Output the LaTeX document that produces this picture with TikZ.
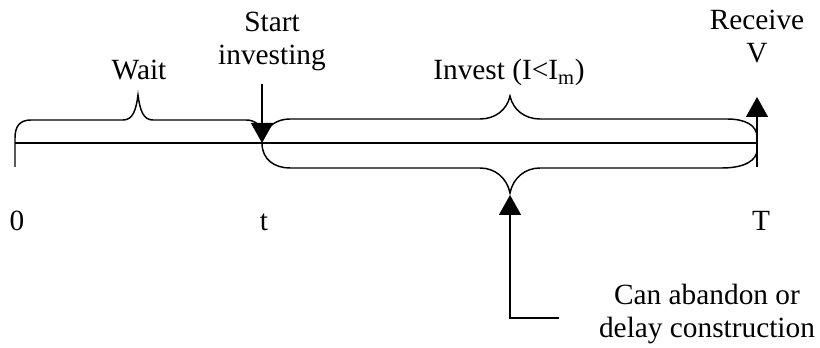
\documentclass[tikz,border=0pt]{standalone}
\usepackage{fontspec}
\setmainfont{Liberation Serif}
\usetikzlibrary{arrows.meta}
\begin{document}
\begin{tikzpicture}[x=0.75pt,y=-0.75pt,
  line/.style={line width=1.1pt},
  lbl/.style={font=\fontsize{22}{24.75}\selectfont, inner sep=0pt, anchor=base, align=center},
  head/.style={-{Triangle[length=15pt,width=16.5pt]}}]
\useasboundingbox (0,0) rectangle (820,348);
% timeline points
\coordinate (O) at (15,143);
\coordinate (tt) at (262,143);
\coordinate (TT) at (757,143);
\draw[line] (O) -- (TT);
% wait brace with tick at 0
\draw[line] (15,167) -- (15,138) .. controls (15,126) and (20,120) .. (31,120) -- (123,120)
  .. controls (133,120) and (136,110) .. (138,95) .. controls (140,110) and (143,120) .. (153,120)
  -- (246,120) .. controls (255,120) and (260,125) .. (262,132);
% invest brace (top)
\draw[line] (262,140) .. controls (266,126) and (277,119) .. (290,119) -- (480,119)
  .. controls (495,119) and (507,110) .. (510,96) .. controls (513,110) and (525,119) .. (540,119)
  -- (727,119) .. controls (745,119) and (757,125) .. (757,137);
% bottom brace
\draw[line] (262,143) .. controls (262,160) and (275,168) .. (290,168) -- (480,168)
  .. controls (495,168) and (507,178) .. (510,193) .. controls (513,178) and (525,168) .. (540,168)
  -- (722,168) .. controls (745,168) and (757,160) .. (757,150);
% labels
\node[lbl] (zero) at (17,231) {0};
\node[lbl] (tl) at (264,231) {t};
\node[lbl] (Tl) at (761,231) {T};
\node[lbl] (wait) at (139,80) {Wait};
\node[lbl] (start) at (272,65) {Start\\investing};
\node[lbl] (invest) at (509,80) {Invest (I<I\textsubscript{m})};
\node[lbl] (recv) at (757,63) {Receive\\V};
\node[lbl] (can) at (707,338) {Can abandon or\\delay construction};
% arrows
\coordinate (sa) at (262,84);
\draw[line,head] (sa) -- (tt);
\coordinate (rb) at (757,167);
\coordinate (ra) at (757,97);
\draw[line,head] (rb) -- (ra);
\coordinate (cb) at (559,318);
\coordinate (ck) at (510,318);
\coordinate (cp) at (510,195);
\draw[line,head] (cb) -- (ck) -- (cp);
\end{tikzpicture}
\end{document}
